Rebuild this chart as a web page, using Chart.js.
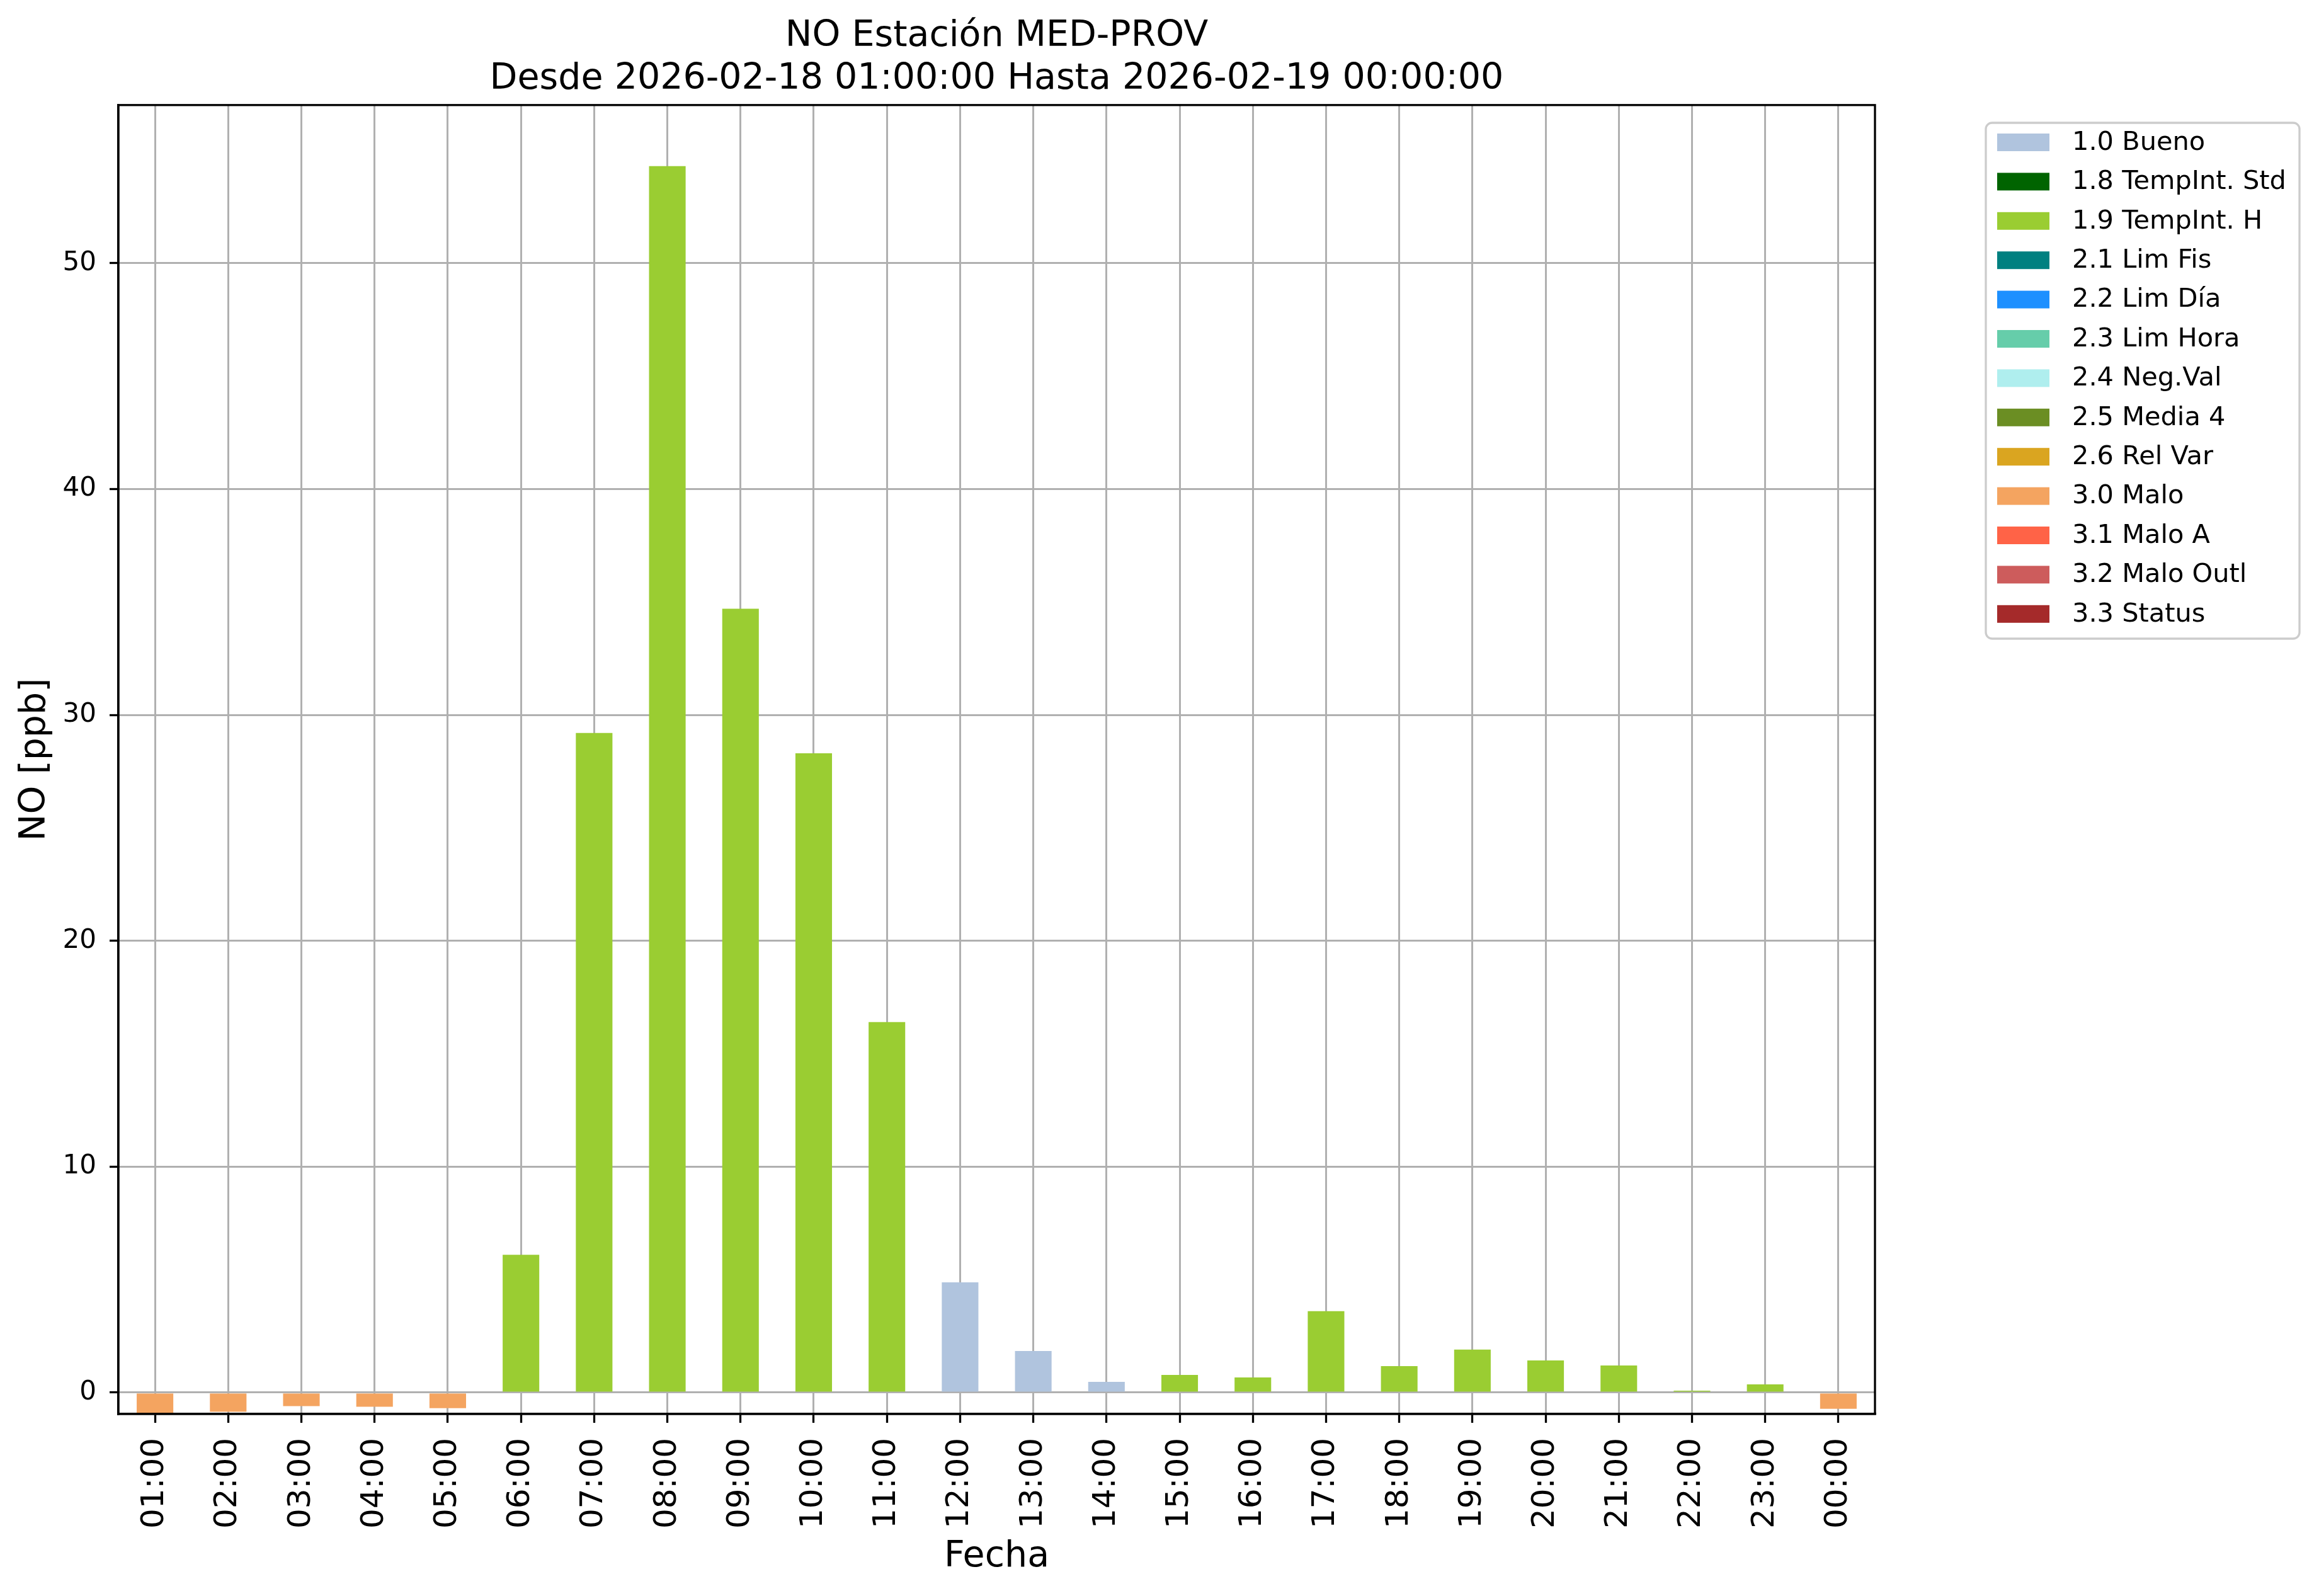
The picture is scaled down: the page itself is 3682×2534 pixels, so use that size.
<!DOCTYPE html>
<html>
<head>
<meta charset="utf-8">
<script src="https://cdn.jsdelivr.net/npm/chart.js@4.4.1/dist/chart.umd.min.js"></script>
<style>
  html, body { margin: 0; padding: 0; background: #fff; }
  #wrap { width: 3682px; height: 2534px; }
</style>
</head>
<body>
<div id="wrap"><canvas id="noChart" width="3682" height="2534"></canvas></div>
<script>
// horas del periodo
const hours = ['01:00', '02:00', '03:00', '04:00', '05:00', '06:00', '07:00', '08:00',
  '09:00', '10:00', '11:00', '12:00', '13:00', '14:00', '15:00', '16:00', '17:00',
  '18:00', '19:00', '20:00', '21:00', '22:00', '23:00', '00:00'];

// NO [ppb] por hora
const values = [-0.9, -0.85, -0.6, -0.63, -0.69, 6.1, 29.2, 54.3, 34.7, 28.3, 16.4,
  4.88, 1.84, 0.47, 0.78, 0.67, 3.6, 1.17, 1.9, 1.42, 1.2, 0.08, 0.36, -0.72];

// bandera de validacion de cada hora
const flags = ['3.0', '3.0', '3.0', '3.0', '3.0', '1.9', '1.9', '1.9', '1.9', '1.9', '1.9',
  '1.0', '1.0', '1.0', '1.9', '1.9', '1.9', '1.9', '1.9', '1.9', '1.9', '1.9', '1.9', '3.0'];

// codigos y nombres de la leyenda
const flagCodes = ['1.0', '1.8', '1.9', '2.1', '2.2', '2.3', '2.4', '2.5', '2.6', '3.0', '3.1', '3.2', '3.3'];
const flagNames = ['1.0 Bueno', '1.8 TempInt. Std', '1.9 TempInt. H', '2.1 Lim Fis', '2.2 Lim Día',
  '2.3 Lim Hora', '2.4 Neg.Val', '2.5 Media 4', '2.6 Rel Var', '3.0 Malo', '3.1 Malo A',
  '3.2 Malo Outl', '3.3 Status'];
const flagColors = ['#b0c4de', '#006400', '#9acd32', '#008080', '#1e90ff', '#66cdaa', '#afeeee',
  '#6b8e23', '#daa520', '#f4a460', '#ff6347', '#cd5c5c', '#a52a2a'];

const yTicks = [0, 10, 20, 30, 40, 50];

const FONT = "'DejaVu Sans', sans-serif";

// un dataset por bandera, solo con las horas que la tienen
const datasets = flagCodes.map((code, i) => ({
  label: flagNames[i],
  data: values.map((v, h) => flags[h] === code ? v : null),
  backgroundColor: flagColors[i],
  borderWidth: 0,
  barPercentage: 0.5,
  categoryPercentage: 1.0
}));

// marco negro alrededor del area y leyenda con caja
const framePlugin = {
  id: 'frameAndLegend',
  afterDraw(chart) {
    const { ctx, chartArea: a } = chart;
    ctx.save();
    ctx.strokeStyle = '#000';
    ctx.lineWidth = 3.3;
    ctx.strokeRect(a.left, a.top, a.right - a.left, a.bottom - a.top);

    // leyenda
    const bx = 3153, by = 195, bw = 498, bh = 819;
    ctx.beginPath();
    ctx.roundRect(bx, by, bw, bh, 10);
    ctx.fillStyle = 'rgba(255,255,255,0.8)';
    ctx.fill();
    ctx.strokeStyle = '#cccccc';
    ctx.lineWidth = 3.3;
    ctx.stroke();

    ctx.font = '41.5px ' + FONT;
    ctx.textBaseline = 'middle';
    ctx.textAlign = 'left';
    chart.data.datasets.forEach((ds, i) => {
      const cy = 226 + i * 62.4;
      ctx.fillStyle = ds.backgroundColor;
      ctx.fillRect(3171, cy - 14, 83, 28);
      ctx.fillStyle = '#000';
      ctx.fillText(ds.label, 3290, cy + 1);
    });
    ctx.restore();
  }
};

const ctx = document.getElementById('noChart').getContext('2d');
new Chart(ctx, {
  type: 'bar',
  data: { labels: hours, datasets: datasets },
  options: {
    responsive: false,
    animation: false,
    devicePixelRatio: 1,
    layout: { padding: { left: 0, right: 705, top: 0, bottom: 0 } },
    plugins: {
      legend: { display: false },
      tooltip: { enabled: false },
      title: {
        display: true,
        fullSize: false,
        text: ['NO Estación MED-PROV', 'Desde 2026-02-18 01:00:00 Hasta 2026-02-19 00:00:00'],
        color: '#000',
        font: { family: FONT, size: 57, weight: 'normal', lineHeight: 1.2 },
        padding: { top: 24, bottom: 6 }
      }
    },
    scales: {
      x: {
        stacked: true,
        z: 1,
        grid: {
          offset: false,
          color: '#b0b0b0',
          lineWidth: 3,
          tickColor: '#000',
          tickWidth: 3.3,
          tickLength: 14
        },
        border: { display: true, color: '#000', width: 3.3 },
        ticks: {
          color: '#000',
          autoSkip: false,
          minRotation: 90,
          maxRotation: 90,
          padding: 24,
          font: { family: FONT, size: 50 }
        },
        title: {
          display: true,
          text: 'Fecha',
          color: '#000',
          font: { family: FONT, size: 57, lineHeight: 1.2 },
          padding: { top: 0, bottom: 28 }
        },
        afterFit(scale) { scale.height = 2534 - 2245; }
      },
      y: {
        stacked: true,
        z: 1,
        min: -0.95,
        max: 57,
        afterBuildTicks(scale) { scale.ticks = yTicks.map(v => ({ value: v })); },
        grid: {
          color: '#b0b0b0',
          lineWidth: 3,
          tickColor: '#000',
          tickWidth: 3.3,
          tickLength: 14
        },
        border: { display: true, color: '#000', width: 3.3 },
        ticks: {
          color: '#000',
          padding: 21,
          font: { family: FONT, size: 42 }
        },
        title: {
          display: true,
          text: 'NO [ppb]',
          color: '#000',
          font: { family: FONT, size: 57, lineHeight: 1.2 },
          padding: { top: 22, bottom: 0 }
        },
        afterFit(scale) { scale.width = 188; }
      }
    }
  },
  plugins: [framePlugin]
});
</script>
</body>
</html>
